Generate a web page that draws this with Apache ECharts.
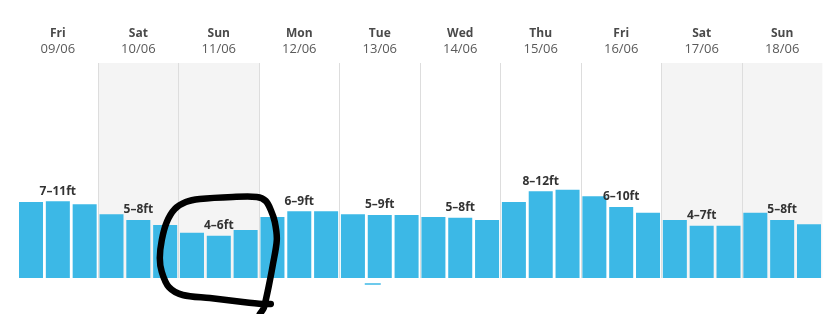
<!DOCTYPE html>
<html>
<head>
<meta charset="utf-8">
<style>
  html, body { margin: 0; padding: 0; background: #fff; }
  #chart { width: 838px; height: 314px; }
</style>
<script src="https://cdn.jsdelivr.net/npm/echarts@6/dist/echarts.min.js"></script>
</head>
<body>
<div id="chart"></div>
<script>
// Day headers
const dayNames = ['Fri', 'Sat', 'Sun', 'Mon', 'Tue', 'Wed', 'Thu', 'Fri', 'Sat', 'Sun'];
const dayDates = ['09/06', '10/06', '11/06', '12/06', '13/06', '14/06', '15/06', '16/06', '17/06', '18/06'];
const weekend = [false, true, true, false, false, false, false, false, true, true];

// Surf range per day
const rangeLabels = ['7–11ft', '5–8ft', '4–6ft', '6–9ft', '5–9ft', '5–8ft', '8–12ft', '6–10ft', '4–7ft', '5–8ft'];

// Three readings per day (ft)
const waveHeights = [
  10.6, 10.7, 10.3,
  8.9, 8.1, 7.4,
  6.3, 5.9, 6.7,
  8.5, 9.3, 9.3,
  8.9, 8.8, 8.8,
  8.5, 8.4, 8.1,
  10.6, 12.1, 12.3,
  11.4, 9.9, 9.1,
  8.1, 7.3, 7.3,
  9.1, 8.1, 7.5
];
const slotsPerDay = 3;
const nowSlot = 13;       // current reading marker
const highlightDay = 2;   // day circled by hand

const slotCategories = waveHeights.map((_, i) => dayDates[Math.floor(i / slotsPerDay)] + '-' + (i % slotsPerDay));

const barData = waveHeights.map((v, i) => {
  const d = Math.floor(i / slotsPerDay);
  const item = { value: v };
  if (i % slotsPerDay === 1) {
    item.label = { show: true, formatter: rangeLabels[d] };
  }
  return item;
});

const chart = echarts.init(document.getElementById('chart'), null, { renderer: 'canvas' });

const option = {
  animation: false,
  backgroundColor: '#ffffff',
  grid: { left: 17.6, right: 15.6, top: 63, bottom: 36 },
  xAxis: [
    {
      type: 'category',
      data: slotCategories,
      show: false
    },
    {
      type: 'category',
      position: 'top',
      data: dayNames.map((n, i) => n + '|' + dayDates[i]),
      axisLine: { show: false },
      axisTick: { show: false },
      axisLabel: {
        interval: 0,
        margin: 6.5,
        formatter: v => {
          const p = v.split('|');
          return '{d|' + p[0] + '}\n{t|' + p[1] + '}';
        },
        rich: {
          d: { fontFamily: 'Open Sans', fontWeight: 'bold', fontSize: 12, color: '#4a4a4a', lineHeight: 15 },
          t: { fontFamily: 'Open Sans', fontSize: 13, color: '#5a5a5a', lineHeight: 15 }
        }
      },
      splitLine: {
        show: true,
        interval: 0,
        showMinLine: false,
        showMaxLine: false,
        lineStyle: { color: '#dddddd', width: 1 }
      },
      splitArea: {
        show: true,
        interval: 0,
        areaStyle: { color: weekend.map(w => (w ? '#f4f4f4' : '#ffffff')) }
      }
    }
  ],
  yAxis: {
    type: 'value',
    min: 0,
    max: 30,
    show: false,
    splitLine: { show: false }
  },
  series: [
    {
      type: 'bar',
      xAxisIndex: 0,
      data: barData,
      barCategoryGap: '10.5%',
      itemStyle: { color: '#3cb8e6' },
      label: {
        show: false,
        position: 'top',
        distance: 4,
        fontFamily: 'Open Sans',
        fontWeight: 'bold',
        fontSize: 12,
        color: '#333333'
      }
    }
  ]
};

chart.setOption(option);

// Hand-drawn loop around the highlighted day, relative to its centre on the baseline
const loopOffsets = [
  [52, 26], [44, 26], [24, 24], [-9, 20], [-36, 17], [-50, 9], [-57, -6], [-59, -20],
  [-57, -38], [-52, -56], [-44, -69], [-33, -76], [-19, -79], [14, -81], [38, -81],
  [47, -77], [52, -68], [56, -56], [58, -38], [54, -13], [50, 8], [47, 22], [45, 30], [41, 36]
];
const dayCenterX = chart.convertToPixel({ xAxisIndex: 1 }, highlightDay);
const baseY = chart.convertToPixel({ yAxisIndex: 0 }, 0);
const slotX = chart.convertToPixel({ xAxisIndex: 0 }, nowSlot);

chart.setOption({
  graphic: [
    {
      type: 'line',
      shape: { x1: slotX - 15, y1: baseY + 6, x2: slotX + 1, y2: baseY + 6 },
      style: { stroke: '#3cb8e6', lineWidth: 1.5 },
      silent: true
    },
    {
      type: 'polyline',
      z: 100,
      shape: {
        points: loopOffsets.map(p => [dayCenterX + p[0], baseY + p[1]]),
        smooth: 0.3
      },
      style: { stroke: '#000000', lineWidth: 6.5, fill: null, lineCap: 'round', lineJoin: 'round' },
      silent: true
    }
  ]
});
</script>
</body>
</html>
